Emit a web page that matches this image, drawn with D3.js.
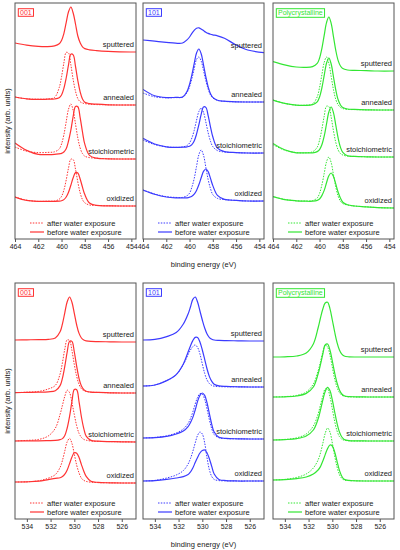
<!DOCTYPE html>
<html>
<head>
<meta charset="utf-8">
<script src="https://cdn.jsdelivr.net/npm/d3@7"></script>
<style>
  body { margin: 0; background: #fff; }
  svg { font-family: "Liberation Sans", Arial, sans-serif; }
</style>
</head>
<body>
<svg id="chart" width="400" height="550"></svg>
<script>
'use strict';

// ---- data, intensity in arb. units, stacked ----
const samples = ["001", "101", "Polycrystalline"];
const sampleColors = ["#ff3333", "#3b3bff", "#33e633"];
const treatments = ["sputtered", "annealed", "stoichiometric", "oxidized"];
const legendNames = ["after water exposure", "before water exposure"];

const tiTicks = [464, 462, 460, 458, 456, 454];
const oTicks = [534, 532, 530, 528, 526];

// Ti 2p region
const tiEnergy = [464, 463, 462, 461.2, 460.6, 460.2, 460.0, 459.8, 459.6, 459.4, 459.2, 459.0, 458.8, 458.6, 458.4, 458.2, 458.0, 457.6, 457.0, 456.0, 455.0, 453.6];

const ti001Sput = [9.80, 9.69, 9.63, 9.62, 9.66, 9.76, 9.93, 10.27, 10.82, 11.36, 11.60, 11.30, 10.75, 10.15, 9.81, 9.61, 9.52, 9.46, 9.42, 9.38, 9.36, 9.35];
const ti001AnnB = [7.10, 7.01, 6.98, 6.99, 7.00, 7.06, 7.20, 7.53, 8.05, 8.71, 9.24, 9.21, 8.63, 7.92, 7.36, 7.00, 6.84, 6.77, 6.74, 6.71, 6.70, 6.70];
const ti001AnnA = [7.10, 7.01, 6.99, 7.00, 7.08, 7.57, 8.11, 8.80, 9.33, 9.30, 8.71, 7.97, 7.39, 7.02, 6.86, 6.80, 6.77, 6.74, 6.72, 6.71, 6.70, 6.70];
const ti001StoB = [4.80, 4.43, 4.23, 4.22, 4.23, 4.26, 4.28, 4.35, 4.51, 4.90, 5.44, 6.13, 6.63, 6.61, 6.07, 5.35, 4.74, 4.18, 4.04, 4.01, 4.00, 4.00];
const ti001StoA = [4.60, 4.39, 4.32, 4.33, 4.36, 4.50, 4.75, 5.21, 5.86, 6.49, 6.75, 6.43, 5.75, 5.05, 4.55, 4.27, 4.14, 4.07, 4.04, 4.01, 4.00, 4.00];
const ti001OxB = [2.10, 1.93, 1.88, 1.88, 1.88, 1.89, 1.91, 1.97, 2.10, 2.34, 2.69, 3.06, 3.32, 3.30, 3.00, 2.59, 2.22, 1.80, 1.68, 1.66, 1.65, 1.65];
const ti001OxA = [2.10, 1.94, 1.88, 1.89, 1.90, 1.99, 2.13, 2.44, 2.95, 3.55, 3.99, 3.97, 3.49, 2.85, 2.31, 1.97, 1.81, 1.70, 1.68, 1.66, 1.65, 1.65];

const ti101Sput = [9.95, 9.89, 9.83, 9.79, 9.80, 9.97, 10.10, 10.28, 10.43, 10.54, 10.56, 10.50, 10.42, 10.34, 10.28, 10.24, 10.21, 10.16, 10.04, 9.70, 9.45, 9.32];
const ti101AnnB = [7.48, 7.16, 7.07, 7.08, 7.10, 7.40, 7.73, 8.20, 8.77, 9.30, 9.50, 9.26, 8.71, 8.10, 7.61, 7.26, 7.08, 6.94, 6.89, 6.86, 6.85, 6.85];
const ti101AnnA = [7.30, 7.11, 7.06, 7.07, 7.09, 7.34, 7.61, 8.02, 8.51, 8.98, 9.10, 8.90, 8.43, 7.92, 7.50, 7.20, 7.05, 6.93, 6.88, 6.86, 6.85, 6.85];
const ti101StoB = [5.03, 4.75, 4.61, 4.58, 4.59, 4.61, 4.64, 4.72, 4.90, 5.24, 5.71, 6.23, 6.60, 6.58, 6.17, 5.61, 5.11, 4.54, 4.37, 4.32, 4.30, 4.30];
const ti101StoA = [4.95, 4.72, 4.61, 4.58, 4.60, 4.68, 4.80, 5.05, 5.43, 5.93, 6.37, 6.55, 6.33, 5.85, 5.31, 4.89, 4.62, 4.42, 4.35, 4.32, 4.30, 4.30];
const ti101OxB = [2.45, 2.24, 2.10, 2.06, 2.06, 2.06, 2.09, 2.14, 2.24, 2.43, 2.71, 3.06, 3.38, 3.50, 3.37, 3.03, 2.67, 2.18, 1.98, 1.93, 1.90, 1.90];
const ti101OxA = [2.45, 2.25, 2.12, 2.08, 2.08, 2.17, 2.29, 2.59, 3.02, 3.63, 4.21, 4.45, 4.19, 3.59, 2.97, 2.52, 2.22, 2.03, 1.97, 1.93, 1.90, 1.90];

const tiPolySput = [8.87, 8.71, 8.60, 8.58, 8.62, 8.78, 9.04, 9.52, 10.18, 10.82, 11.10, 10.78, 10.11, 9.42, 8.92, 8.65, 8.52, 8.45, 8.43, 8.42, 8.40, 8.40];
const tiPolyAnnB = [6.95, 6.78, 6.69, 6.68, 6.72, 6.86, 7.10, 7.55, 8.18, 8.79, 9.05, 8.75, 8.10, 7.44, 6.96, 6.70, 6.57, 6.50, 6.48, 6.46, 6.45, 6.45];
const tiPolyAnnA = [6.95, 6.78, 6.69, 6.69, 6.75, 7.11, 7.57, 8.21, 8.83, 9.10, 8.79, 8.13, 7.46, 6.97, 6.71, 6.58, 6.52, 6.48, 6.47, 6.46, 6.45, 6.45];
const tiPolyStoB = [4.78, 4.46, 4.31, 4.31, 4.31, 4.37, 4.47, 4.71, 5.14, 5.75, 6.35, 6.60, 6.31, 5.68, 5.04, 4.58, 4.33, 4.16, 4.13, 4.11, 4.10, 4.10];
const tiPolyStoA = [4.72, 4.44, 4.32, 4.31, 4.36, 4.59, 4.94, 5.49, 6.14, 6.64, 6.62, 6.09, 5.40, 4.82, 4.45, 4.27, 4.20, 4.14, 4.13, 4.11, 4.10, 4.10];
const tiPolyOxB = [2.12, 1.97, 1.91, 1.89, 1.89, 1.93, 2.00, 2.17, 2.43, 2.81, 3.16, 3.30, 3.12, 2.74, 2.34, 2.04, 1.84, 1.71, 1.65, 1.61, 1.57, 1.55];
const tiPolyOxA = [2.12, 1.98, 1.91, 1.90, 1.92, 2.05, 2.28, 2.70, 3.28, 3.86, 4.10, 3.82, 3.20, 2.59, 2.14, 1.89, 1.77, 1.70, 1.65, 1.61, 1.57, 1.55];

// O 1s region
const oEnergy = [535, 534, 533, 532.2, 531.6, 531.2, 531.0, 530.8, 530.6, 530.4, 530.2, 530.0, 529.8, 529.6, 529.4, 529.2, 529.0, 528.6, 528.0, 527.0, 526.0, 524.8];

const o001Sput = [8.95, 8.96, 8.97, 8.98, 9.05, 9.36, 9.76, 10.32, 10.86, 11.10, 10.84, 10.28, 9.70, 9.28, 9.05, 8.95, 8.91, 8.88, 8.87, 8.86, 8.85, 8.85];
const o001AnnB = [6.32, 6.33, 6.34, 6.36, 6.41, 6.67, 7.04, 7.64, 8.35, 8.88, 8.88, 8.35, 7.63, 7.02, 6.65, 6.47, 6.39, 6.34, 6.33, 6.31, 6.30, 6.30];
const o001AnnA = [6.32, 6.34, 6.38, 6.50, 6.68, 7.25, 7.82, 8.50, 8.96, 8.92, 8.42, 7.72, 7.13, 6.73, 6.51, 6.42, 6.38, 6.34, 6.33, 6.31, 6.30, 6.30];
const o001StoB = [3.90, 3.91, 3.91, 3.92, 3.93, 3.97, 4.02, 4.18, 4.55, 5.13, 5.88, 6.47, 6.46, 5.86, 5.10, 4.52, 4.14, 3.93, 3.89, 3.87, 3.86, 3.85];
const o001StoA = [3.90, 3.93, 3.98, 4.15, 4.54, 5.23, 5.69, 6.14, 6.44, 6.32, 5.82, 5.22, 4.66, 4.28, 4.08, 3.98, 3.94, 3.90, 3.88, 3.87, 3.86, 3.85];
const o001OxB = [1.85, 1.86, 1.89, 1.97, 2.03, 2.06, 2.12, 2.24, 2.45, 2.77, 3.10, 3.31, 3.29, 3.07, 2.72, 2.39, 2.13, 1.89, 1.83, 1.81, 1.80, 1.80];
const o001OxA = [1.85, 1.86, 1.91, 2.04, 2.22, 2.58, 2.93, 3.41, 3.86, 4.03, 3.78, 3.24, 2.69, 2.30, 2.04, 1.93, 1.88, 1.84, 1.82, 1.81, 1.80, 1.80];

const o101Sput = [8.95, 8.98, 9.12, 9.32, 9.75, 10.25, 10.60, 10.98, 11.10, 10.85, 10.40, 9.95, 9.55, 9.25, 9.07, 8.99, 8.95, 8.93, 8.92, 8.91, 8.90, 8.90];
const o101AnnB = [6.65, 6.70, 6.92, 7.22, 7.75, 8.35, 8.65, 8.92, 9.08, 9.08, 8.85, 8.45, 7.98, 7.50, 7.12, 6.88, 6.74, 6.66, 6.63, 6.61, 6.60, 6.60];
const o101AnnA = [6.65, 6.70, 6.92, 7.22, 7.72, 8.22, 8.45, 8.62, 8.70, 8.58, 8.25, 7.75, 7.28, 6.95, 6.77, 6.68, 6.64, 6.62, 6.61, 6.61, 6.60, 6.60];
const o101StoB = [4.05, 4.07, 4.13, 4.25, 4.40, 4.62, 4.82, 5.08, 5.45, 5.88, 6.18, 6.30, 6.18, 5.80, 5.25, 4.72, 4.35, 4.09, 4.03, 4.01, 4.00, 4.00];
const o101StoA = [4.05, 4.08, 4.16, 4.30, 4.50, 4.78, 5.02, 5.35, 5.75, 6.08, 6.27, 6.25, 5.98, 5.50, 4.95, 4.50, 4.22, 4.06, 4.02, 4.01, 4.00, 4.00];
const o101OxB = [1.90, 1.92, 1.98, 2.05, 2.12, 2.22, 2.35, 2.55, 2.82, 3.08, 3.30, 3.42, 3.45, 3.30, 3.00, 2.62, 2.25, 1.98, 1.92, 1.90, 1.90, 1.90];
const o101OxA = [1.90, 1.93, 2.05, 2.20, 2.42, 2.75, 3.02, 3.38, 3.80, 4.18, 4.35, 4.25, 3.80, 3.05, 2.45, 2.12, 1.98, 1.92, 1.91, 1.90, 1.90, 1.90];

const oPolySput = [8.10, 8.11, 8.15, 8.30, 8.75, 9.55, 10.05, 10.50, 10.80, 10.84, 10.52, 9.95, 9.35, 8.82, 8.45, 8.24, 8.15, 8.11, 8.10, 8.10, 8.10, 8.10];
const oPolyAnnB = [6.10, 6.11, 6.15, 6.28, 6.60, 7.25, 7.72, 8.25, 8.70, 8.75, 8.45, 7.90, 7.30, 6.80, 6.45, 6.25, 6.16, 6.12, 6.11, 6.10, 6.10, 6.10];
const oPolyAnnA = [6.10, 6.12, 6.18, 6.35, 6.75, 7.40, 7.85, 8.35, 8.70, 8.60, 8.20, 7.60, 7.00, 6.58, 6.32, 6.19, 6.14, 6.11, 6.10, 6.10, 6.10, 6.10];
const oPolyStoB = [3.95, 3.97, 4.02, 4.15, 4.45, 5.00, 5.45, 5.95, 6.38, 6.58, 6.42, 5.95, 5.35, 4.78, 4.35, 4.10, 3.98, 3.92, 3.91, 3.90, 3.90, 3.90];
const oPolyStoA = [3.95, 3.98, 4.06, 4.25, 4.65, 5.25, 5.70, 6.15, 6.50, 6.50, 6.12, 5.50, 4.88, 4.40, 4.12, 3.99, 3.94, 3.91, 3.90, 3.90, 3.90, 3.90];
const oPolyOxB = [1.95, 1.97, 2.02, 2.10, 2.25, 2.45, 2.62, 2.90, 3.22, 3.52, 3.70, 3.65, 3.35, 2.88, 2.43, 2.14, 1.99, 1.93, 1.91, 1.90, 1.90, 1.90];
const oPolyOxA = [1.95, 1.98, 2.08, 2.25, 2.55, 2.95, 3.30, 3.78, 4.28, 4.55, 4.35, 3.80, 3.15, 2.60, 2.22, 2.03, 1.95, 1.92, 1.91, 1.90, 1.90, 1.90];

// ---- tables built from the arrays: [before, after] per treatment ----
const rows = [
  {
    energy: tiEnergy, domain: [464, 453.6], ticks: tiTicks,
    series: [
      [[ti001Sput], [ti001AnnB, ti001AnnA], [ti001StoB, ti001StoA], [ti001OxB, ti001OxA]],
      [[ti101Sput], [ti101AnnB, ti101AnnA], [ti101StoB, ti101StoA], [ti101OxB, ti101OxA]],
      [[tiPolySput], [tiPolyAnnB, tiPolyAnnA], [tiPolyStoB, tiPolyStoA], [tiPolyOxB, tiPolyOxA]]
    ]
  },
  {
    energy: oEnergy, domain: [535, 524.8], ticks: oTicks,
    series: [
      [[o001Sput], [o001AnnB, o001AnnA], [o001StoB, o001StoA], [o001OxB, o001OxA]],
      [[o101Sput], [o101AnnB, o101AnnA], [o101StoB, o101StoA], [o101OxB, o101OxA]],
      [[oPolySput], [oPolyAnnB, oPolyAnnA], [oPolyStoB, oPolyStoA], [oPolyOxB, oPolyOxA]]
    ]
  }
];

// ---- layout ----
const svg = d3.select("#chart");
const colLeft = [15, 143, 273];
const rowTop = [3, 283];
const panelW = 121, panelH = 236;
const frameColor = "#555";
const textColor = "#222";

rows.forEach((row, r) => {
  const x = d3.scaleLinear().domain(row.domain).range([0, panelW]);
  const y = d3.scaleLinear().domain([0, 11.8]).range([panelH, 0]);
  const line = d3.line()
    .x((d, i) => x(row.energy[i]))
    .y(d => y(d))
    .curve(d3.curveCatmullRom.alpha(0.5));

  samples.forEach((name, c) => {
    const color = sampleColors[c];
    const g = svg.append("g").attr("transform", `translate(${colLeft[c]},${rowTop[r]})`);

    const clipId = `clip-${r}-${c}`;
    g.append("clipPath").attr("id", clipId)
      .append("rect").attr("width", panelW).attr("height", panelH);

    const plot = g.append("g").attr("clip-path", `url(#${clipId})`);

    row.series[c].forEach((pair, k) => {
      const before = pair[0], after = pair[1];
      if (after) {
        plot.append("path")
          .attr("d", line(after))
          .attr("fill", "none")
          .attr("stroke", color)
          .attr("stroke-width", 1)
          .attr("stroke-dasharray", "1.5,1.3");
      }
      plot.append("path")
        .attr("d", line(before))
        .attr("fill", "none")
        .attr("stroke", color)
        .attr("stroke-width", 1.2);

      g.append("text")
        .attr("x", panelW - 2)
        .attr("y", y(before[before.length - 1]) - 5)
        .attr("text-anchor", "end")
        .attr("font-size", "7.5px")
        .attr("fill", textColor)
        .text(treatments[k]);
    });

    // frame
    g.append("rect")
      .attr("width", panelW).attr("height", panelH)
      .attr("fill", "none").attr("stroke", frameColor).attr("stroke-width", 1);

    // x axis
    const ax = g.append("g")
      .attr("transform", `translate(0,${panelH})`)
      .call(d3.axisBottom(x).tickValues(row.ticks).tickSize(3).tickSizeOuter(0).tickFormat(d3.format("d")));
    ax.select(".domain").remove();
    ax.selectAll(".tick line").attr("stroke", frameColor);
    ax.selectAll(".tick text")
      .attr("font-size", "7px")
      .attr("font-family", "Liberation Sans, Arial, sans-serif")
      .attr("fill", textColor)
      .attr("y", 5);

    // sample tag
    const tag = g.append("text")
      .attr("x", 5).attr("y", 12)
      .attr("font-size", "7px")
      .attr("fill", color)
      .text(name);
    const bb = tag.node().getBBox();
    g.insert("rect", "text")
      .attr("x", bb.x - 1.7).attr("y", bb.y - 0.3)
      .attr("width", bb.width + 3.4).attr("height", bb.height + 0.6)
      .attr("fill", "#fff").attr("stroke", color).attr("stroke-width", 1);

    // legend
    legendNames.forEach((lab, j) => {
      const ly = panelH - 16 + j * 9;
      g.append("line")
        .attr("x1", 15).attr("x2", 29).attr("y1", ly).attr("y2", ly)
        .attr("stroke", color)
        .attr("stroke-width", j === 0 ? 1 : 1.2)
        .attr("stroke-dasharray", j === 0 ? "1.5,1.3" : null);
      g.append("text")
        .attr("x", 32).attr("y", ly).attr("dy", "0.35em")
        .attr("font-size", "7.5px")
        .attr("fill", textColor)
        .text(lab);
    });
  });

  // axis titles
  svg.append("text")
    .attr("x", colLeft[1] + panelW / 2)
    .attr("y", rowTop[r] + panelH + 28)
    .attr("text-anchor", "middle")
    .attr("font-size", "7.5px")
    .attr("fill", textColor)
    .text("binding energy (eV)");

  svg.append("text")
    .attr("transform", `translate(10,${rowTop[r] + panelH / 2}) rotate(-90)`)
    .attr("text-anchor", "middle")
    .attr("font-size", "7.5px")
    .attr("fill", textColor)
    .text("intensity (arb. units)");
});
</script>
</body>
</html>
